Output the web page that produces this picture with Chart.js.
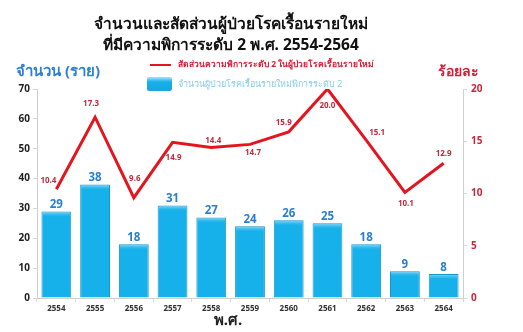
<!DOCTYPE html>
<html>
<head>
<meta charset="utf-8">
<script src="https://cdn.jsdelivr.net/npm/chart.js@4/dist/chart.umd.min.js"></script>
<style>
  html, body { margin: 0; padding: 0; background: #ffffff; }
  #wrap { width: 523px; height: 332px; position: relative; }
</style>
</head>
<body>
<div id="wrap"><canvas id="chart"></canvas></div>
<script>
// ข้อมูล
const years = ['2554', '2555', '2556', '2557', '2558', '2559', '2560', '2561', '2562', '2563', '2564'];
const newCases = [29, 38, 18, 31, 27, 24, 26, 25, 18, 9, 8];
const disabilityPct = [10.4, 17.3, 9.6, 14.9, 14.4, 14.7, 15.9, 20.0, 15.1, 10.1, 12.9];

const titleLines = ['จำนวนและสัดส่วนผู้ป่วยโรคเรื้อนรายใหม่', 'ที่มีความพิการระดับ 2 พ.ศ. 2554-2564'];
const lineLabel = 'สัดส่วนความพิการระดับ 2 ในผู้ป่วยโรคเรื้อนรายใหม่';
const barLabel = 'จำนวนผู้ป่วยโรคเรื้อนรายใหม่พิการระดับ 2';

// ตำแหน่งป้ายของเส้น (dx, dy จากจุด)
const pctLabelShift = [[-8, -9], [-4, -13], [1, -19], [1, 15], [2, -7], [3, 8], [-5, -9], [0, 17], [11, -7], [1, 11], [0, -9]];

const FONT = '"Noto Sans", "DejaVu Sans", sans-serif';
const BLUE = '#16b0ea';
const RED = '#e3161f';

const decorations = {
    id: 'decorations',
    afterDatasetsDraw(chart) {
        const ctx = chart.ctx;
        ctx.save();

        // แถบสว่างด้านบนของแท่ง
        const barMeta = chart.getDatasetMeta(1);
        barMeta.data.forEach((bar) => {
            const w = bar.width;
            const g = ctx.createLinearGradient(0, bar.y, 0, bar.y + 6);
            g.addColorStop(0, '#9be0fa');
            g.addColorStop(1, 'rgba(22,176,234,0)');
            ctx.fillStyle = g;
            ctx.fillRect(bar.x - w / 2 + 1, bar.y + 1, w - 2, 6);
        });

        // ป้ายค่าของแท่ง
        ctx.font = 'bold 11.5px ' + FONT;
        ctx.fillStyle = '#2b7fd0';
        ctx.textAlign = 'center';
        ctx.textBaseline = 'bottom';
        barMeta.data.forEach((bar, i) => {
            ctx.fillText(String(newCases[i]), bar.x, bar.y - 1);
        });

        // ป้ายค่าของเส้น
        const lineMeta = chart.getDatasetMeta(0);
        ctx.font = 'bold 8px ' + FONT;
        ctx.fillStyle = '#c42a3e';
        ctx.textBaseline = 'middle';
        lineMeta.data.forEach((pt, i) => {
            const s = pctLabelShift[i];
            ctx.fillText(disabilityPct[i].toFixed(1), pt.x + s[0], pt.y + s[1]);
        });
        ctx.restore();
    },
    afterDraw(chart) {
        const ctx = chart.ctx;
        ctx.save();

        // หัวเรื่อง
        ctx.fillStyle = '#111';
        ctx.font = 'bold 15.5px ' + FONT;
        ctx.textAlign = 'center';
        ctx.textBaseline = 'middle';
        ctx.fillText(titleLines[0], 231, 25);
        ctx.fillText(titleLines[1], 231, 46);

        // ชื่อแกน
        ctx.font = 'bold 15px ' + FONT;
        ctx.textAlign = 'left';
        ctx.fillStyle = '#2e7fd6';
        ctx.fillText('จำนวน (ราย)', 16, 72);
        ctx.fillStyle = '#d0203a';
        ctx.textAlign = 'right';
        ctx.font = 'bold 14px ' + FONT;
        ctx.fillText('ร้อยละ', 479, 72);
        ctx.fillStyle = '#222';
        ctx.textAlign = 'center';
        ctx.font = 'bold 15px ' + FONT;
        ctx.fillText('พ.ศ.', 228, 321);

        // คำอธิบาย
        ctx.strokeStyle = RED;
        ctx.lineWidth = 2;
        ctx.beginPath();
        ctx.moveTo(150, 65);
        ctx.lineTo(171, 65);
        ctx.stroke();
        const g = ctx.createLinearGradient(0, 77, 0, 91);
        g.addColorStop(0, '#a8e4fb');
        g.addColorStop(0.35, BLUE);
        g.addColorStop(1, '#19a6dd');
        ctx.fillStyle = g;
        ctx.beginPath();
        ctx.roundRect(147, 77, 25, 14, 2);
        ctx.fill();
        ctx.font = 'bold 8.5px ' + FONT;
        ctx.textAlign = 'left';
        ctx.fillStyle = '#d61e36';
        ctx.fillText(lineLabel, 178, 65);
        ctx.fillStyle = '#86ccec';
        ctx.font = '9px ' + FONT;
        ctx.fillText(barLabel, 178, 84);
        ctx.restore();
    }
};

new Chart(document.getElementById('chart'), {
    type: 'bar',
    data: {
        labels: years,
        datasets: [
            {
                type: 'line',
                label: lineLabel,
                data: disabilityPct,
                yAxisID: 'y1',
                borderColor: RED,
                borderWidth: 3,
                pointRadius: 0,
                tension: 0,
                order: 0
            },
            {
                type: 'bar',
                label: barLabel,
                data: newCases,
                yAxisID: 'y',
                backgroundColor: BLUE,
                borderColor: '#1898cc',
                borderWidth: 1,
                barPercentage: 0.77,
                categoryPercentage: 1,
                order: 1
            }
        ]
    },
    options: {
        responsive: true,
        maintainAspectRatio: false,
        animation: false,
        layout: {
            padding: { left: 8, right: 18, top: 89, bottom: 14 }
        },
        plugins: {
            legend: { display: false },
            title: { display: false },
            tooltip: { enabled: false }
        },
        scales: {
            x: {
                grid: { display: true, drawOnChartArea: false, drawTicks: true, tickLength: 4, color: '#d8d8d8' },
                border: { color: '#cfcfcf' },
                ticks: { color: '#333', font: { family: FONT, size: 8, weight: 'bold' }, padding: 2 },
                afterFit(scale) { scale.height = 20; }
            },
            y: {
                position: 'left',
                min: 0,
                max: 70,
                ticks: { stepSize: 10, color: '#222', font: { family: FONT, size: 10, weight: 'bold' }, padding: 3 },
                grid: { display: true, drawOnChartArea: false, drawTicks: true, tickLength: 4, color: '#d8d8d8' },
                border: { color: '#cfcfcf' },
                afterFit(scale) { scale.width = 29; }
            },
            y1: {
                position: 'right',
                min: 0,
                max: 20,
                ticks: { stepSize: 5, color: '#c8283c', font: { family: FONT, size: 10, weight: 'bold' }, padding: 4 },
                grid: { display: true, drawOnChartArea: false, drawTicks: true, tickLength: 4, color: '#d8d8d8' },
                border: { color: '#cfcfcf' },
                afterFit(scale) { scale.width = 42; }
            }
        }
    },
    plugins: [decorations]
});
</script>
</body>
</html>
